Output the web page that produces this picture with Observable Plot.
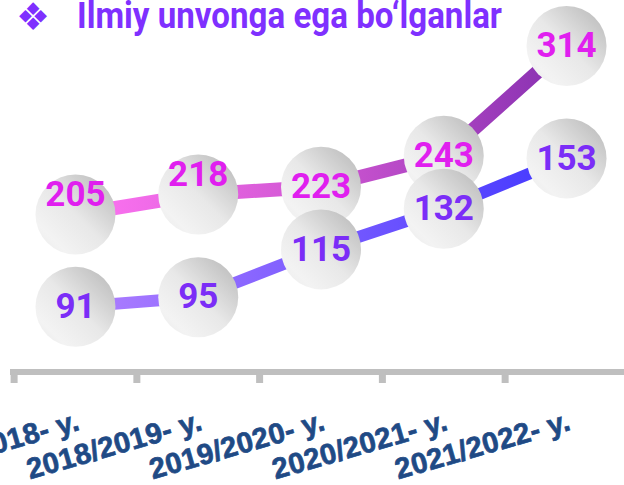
<!DOCTYPE html>
<html><head><meta charset="utf-8">
<script src="https://cdn.jsdelivr.net/npm/d3@7"></script>
<script src="https://cdn.jsdelivr.net/npm/@observablehq/plot@0.6"></script>
<style>
html,body{margin:0;padding:0;background:#fff;}
#wrap{position:relative;width:624px;height:485px;overflow:hidden;}
#chart{position:absolute;left:0;top:0;}
.ttl{position:absolute;display:block;white-space:nowrap;color:#7F30FF;transform-origin:0 0;}
#mark{font-family:"DejaVu Sans",sans-serif;font-size:38px;line-height:34px;left:16px;top:0px;}
#title{font-family:Roboto,sans-serif;font-weight:700;font-size:36px;line-height:30px;left:77px;top:1px;}
g[aria-label="balls"] circle{filter:drop-shadow(0px 2px 2px rgba(0,0,0,0.18));}
g[aria-label="x-axis tick label"] text{letter-spacing:0.3px;font-weight:700;stroke:#1F4A85;stroke-width:0.7px;paint-order:stroke;}
</style></head>
<body><div id="wrap"><div id="chart"></div><div id="mark" class="ttl"></div><div id="title" class="ttl"></div></div>
<script>
const categories = ["2017/2018- y.", "2018/2019- y.", "2019/2020- y.", "2020/2021- y.", "2021/2022- y."];
const topSeries = [205, 218, 223, 243, 314];
const bottomSeries = [91, 95, 115, 132, 153];
const titleText = "Ilmiy unvonga ega bo‘lganlar";
const titleSymbol = "❖";

const topLabelColor = "#E01FEF";
const bottomLabelColor = "#7B2DF7";

const topRows = topSeries.map((v, i) => ({i, v}));
const bottomRows = bottomSeries.map((v, i) => ({i, v}));
// secondary axis (bottom series) mapped into primary axis units
const secondaryToPrimary = d3.scaleLinear([0, 220], [4.3, 345.1]);

const defsMark = (index, scales, values, dims) => {
  const ns = "http://www.w3.org/2000/svg";
  const g = document.createElementNS(ns, "g");
  const xa = scales.x(0), xb = scales.x(4);
  const yb = dims.height - dims.marginBottom;
  g.innerHTML = `<defs>
    <linearGradient id="gTop" gradientUnits="userSpaceOnUse" x1="${xa}" y1="0" x2="${xb}" y2="0">
      <stop offset="0" stop-color="#FF74F2"/><stop offset="0.5" stop-color="#CF56D2"/><stop offset="1" stop-color="#8630B0"/>
    </linearGradient>
    <linearGradient id="gBot" gradientUnits="userSpaceOnUse" x1="${xa}" y1="0" x2="${xb}" y2="0">
      <stop offset="0" stop-color="#B07FFF"/><stop offset="0.5" stop-color="#7A5CFF"/><stop offset="1" stop-color="#4338FF"/>
    </linearGradient>
    <linearGradient id="ball" x1="1" y1="0" x2="0" y2="1">
      <stop offset="0" stop-color="#B5B5B5"/><stop offset="0.5" stop-color="#E8E8E8"/><stop offset="0.8" stop-color="#F3F3F3"/><stop offset="1" stop-color="#E8E8E8"/>
    </linearGradient></defs>
    <line x1="${dims.marginLeft}" x2="${dims.width - dims.marginRight}" y1="${yb}" y2="${yb}" stroke="#BFBFBF" stroke-width="6"/>`;
  return g;
};

const valueFont = {fontFamily: "Roboto", fontWeight: 700, fontSize: 35, ariaLabel: "value label"};

const chart = Plot.plot({
  width: 624, height: 485,
  marginTop: 0, marginLeft: 10, marginRight: 0, marginBottom: 113,
  x: {type: "linear", domain: [-0.5, 4.5], range: [13.6, 627.4], label: null},
  y: {domain: [0, 350], range: [530.9, -10.1], axis: null, label: null},
  style: {background: "transparent", overflow: "visible"},
  marks: [
    defsMark,
    Plot.axisX({ticks: [-0.5, 0.5, 1.5, 2.5, 3.5, 4.5], tickSize: 11, stroke: "#BFBFBF", strokeWidth: 7, fill: "none", label: null}),
    Plot.axisX({ticks: [0, 1, 2, 3, 4], tickFormat: i => categories[i], tickSize: 0, tickPadding: 48, tickRotate: -16, dx: 3,
      textAnchor: "end", lineAnchor: "middle", fontSize: 29, fontWeight: 700, fontFamily: "Liberation Sans",
      fill: "#1F4A85", label: null}),
    Plot.line(topRows, {x: "i", y: "v", stroke: "url(#gTop)", strokeWidth: 14}),
    Plot.line(bottomRows, {x: "i", y: d => secondaryToPrimary(d.v), stroke: "url(#gBot)", strokeWidth: 12}),
    Plot.dot(topRows, {x: "i", y: "v", r: 40, fill: "url(#ball)", stroke: "none", ariaLabel: "balls"}),
    Plot.text(topRows, {filter: d => d.i < 2, x: "i", y: "v", text: d => String(d.v), dy: -20, fill: topLabelColor, ...valueFont}),
    Plot.text(topRows, {filter: d => d.i >= 2, x: "i", y: "v", text: d => String(d.v), fill: topLabelColor, ...valueFont}),
    Plot.dot(bottomRows, {x: "i", y: d => secondaryToPrimary(d.v), r: 40, fill: "url(#ball)", stroke: "none", ariaLabel: "balls"}),
    Plot.text(bottomRows, {x: "i", y: d => secondaryToPrimary(d.v), text: d => String(d.v), fill: bottomLabelColor, ...valueFont})
  ]
});
document.getElementById("chart").appendChild(chart);

chart.querySelectorAll('g[aria-label="value label"] text').forEach(t => {
  const tr = t.getAttribute("transform") || "";
  t.setAttribute("transform", tr + " scale(0.86,1)");
});

const markEl = document.getElementById("mark");
markEl.textContent = titleSymbol;
const titleEl = document.getElementById("title");
titleEl.textContent = titleText;
const w = titleEl.getBoundingClientRect().width;
titleEl.style.transform = `scaleX(${425 / w})`;
</script></body></html>
